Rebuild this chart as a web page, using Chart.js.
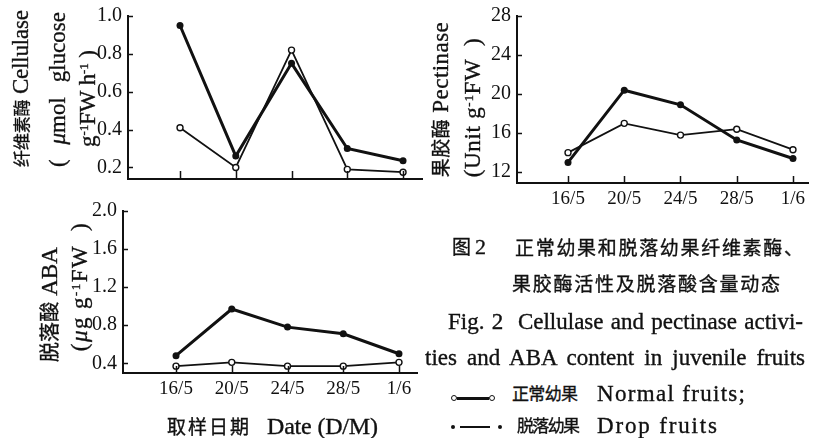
<!DOCTYPE html>
<html><head><meta charset="utf-8">
<script src="https://cdn.jsdelivr.net/npm/chart.js@4.4.1/dist/chart.umd.min.js"></script>
<style>
html,body{margin:0;padding:0;background:#fff;}
#wrap{position:relative;width:817px;height:438px;overflow:hidden;background:#fff;}
canvas{position:absolute;}
.t{position:absolute;white-space:pre;line-height:1;color:#111;font-family:"Liberation Serif","Noto Sans CJK SC",serif;-webkit-text-stroke:0.35px #111;}
.cjk{font-family:"Noto Sans CJK SC","Liberation Serif",sans-serif;}
.it{font-style:italic;}
.sup{vertical-align:0.55em;}
.mk{position:absolute;background:#111;}
.oc{position:absolute;background:#fff;border:1.3px solid #111;border-radius:50%;box-sizing:border-box;}
.dc{position:absolute;background:#111;border-radius:50%;}
</style></head><body>
<div id="wrap">
<canvas id="cA"></canvas><canvas id="cB"></canvas><canvas id="cC"></canvas>
</div>
<script>
const dates = ['16/5','20/5','24/5','28/5','1/6'];
const cellNormal = [0.41, 0.20, 0.82, 0.19, 0.175];
const cellDrop   = [0.95, 0.26, 0.75, 0.30, 0.235];
const pectNormal = [14.0, 17.0, 15.8, 16.4, 14.3];
const pectDrop   = [13.0, 20.4, 18.9, 15.3, 13.4];
const abaNormal  = [0.37, 0.41, 0.37, 0.37, 0.41];
const abaDrop    = [0.48, 0.97, 0.78, 0.71, 0.50];
const cellTicks = [0.2, 0.4, 0.6, 0.8, 1.0];
const pectTicks = [12, 16, 20, 24, 28];
const abaTicks  = [0.4, 0.8, 1.2, 1.6, 2.0];

const INK = '#111';

const inTicks = {
  id: 'inTicks',
  afterDraw(chart, args, opts) {
    const {ctx, chartArea: a, scales: {x, y}} = chart;
    ctx.save();
    ctx.strokeStyle = INK; ctx.lineWidth = 1.5;
    ctx.beginPath();
    dates.forEach((d, i) => {
      const px = Math.round(x.getPixelForValue(i)) + 0.5;
      ctx.moveTo(px, a.bottom); ctx.lineTo(px, a.bottom - opts.x);
    });
    y.ticks.forEach(t => {
      const py = Math.round(y.getPixelForValue(t.value)) + 0.5;
      ctx.moveTo(a.left, py); ctx.lineTo(a.left + opts.y, py);
    });
    ctx.stroke();
    ctx.restore();
  }
};

function make(c) {
  const cv = document.getElementById(c.id);
  cv.width = c.w; cv.height = c.h;
  cv.style.left = c.left + 'px'; cv.style.top = c.top + 'px';
  return new Chart(cv, {
    type: 'line',
    data: {datasets: [
      {label: '正常幼果 Normal fruits', data: c.normal.map((v, i) => ({x: i, y: v})),
       borderColor: INK, borderWidth: 1.8, pointRadius: 3, pointBackgroundColor: '#fff',
       pointBorderColor: INK, pointBorderWidth: 1.4, clip: false, tension: 0},
      {label: '脱落幼果 Drop fruits', data: c.drop.map((v, i) => ({x: i, y: v})),
       borderColor: INK, borderWidth: 3, pointRadius: 3.5, pointBackgroundColor: INK,
       pointBorderColor: INK, pointBorderWidth: 0, clip: false, tension: 0}
    ]},
    options: {
      responsive: false, animation: false, devicePixelRatio: 1,
      layout: {padding: {left: 0, top: c.area.t, right: c.w - c.area.r, bottom: 0}},
      plugins: {legend: {display: false}, tooltip: {enabled: false}, inTicks: {x: c.tickX, y: 5}},
      scales: {
        x: {type: 'linear', min: c.xMin, max: c.xMax,
            afterBuildTicks: s => { s.ticks = dates.map((d, i) => ({value: i})); },
            afterFit: s => { s.height = c.h - c.area.b; },
            grid: {display: false, drawTicks: false},
            border: {display: true, color: INK, width: 2},
            ticks: {display: c.xLabels, autoSkip: false, maxRotation: 0, minRotation: 0, padding: 7,
                    color: INK, font: {family: 'Liberation Serif', size: 19, lineHeight: 1},
                    callback: v => (dates[v] !== undefined ? dates[v] : '')}},
        y: {type: 'linear', min: c.yMin, max: c.yMax,
            afterBuildTicks: s => { s.ticks = c.yTicks.map(v => ({value: v})); },
            afterFit: s => { s.width = c.area.l; },
            grid: {display: false, drawTicks: false},
            border: {display: true, color: INK, width: 2},
            ticks: {padding: 6, color: INK, font: {family: 'Liberation Serif', size: 20, lineHeight: 1},
                    callback: c.fmt}}
      }
    },
    plugins: [inTicks]
  });
}

make({id: 'cA', left: 0, top: 0, w: 430, h: 195, area: {l: 128, t: 13, r: 422, b: 183},
      yMin: 0.139, yMax: 1.0, yTicks: cellTicks, fmt: v => v.toFixed(1),
      xMin: -0.933, xMax: 4.34, xLabels: false, tickX: 8, normal: cellNormal, drop: cellDrop});
make({id: 'cB', left: 430, top: 0, w: 387, h: 215, area: {l: 87, t: 14, r: 378, b: 183},
      yMin: 10.89, yMax: 28, yTicks: pectTicks, fmt: v => String(v),
      xMin: -0.907, xMax: 4.267, xLabels: true, tickX: 7, normal: pectNormal, drop: pectDrop});
make({id: 'cC', left: 0, top: 195, w: 430, h: 243, area: {l: 123, t: 11, r: 417, b: 178},
      yMin: 0.298, yMax: 2.0, yTicks: abaTicks, fmt: v => v.toFixed(1),
      xMin: -0.951, xMax: 4.323, xLabels: true, tickX: 7, normal: abaNormal, drop: abaDrop});

const wrap = document.getElementById('wrap');
function put(parts, o) {
  const d = document.createElement('div');
  d.className = 't';
  let n = 0, spaces = 0;
  parts.forEach(p => {
    const s = document.createElement('span');
    s.textContent = p[0];
    s.style.fontSize = p[1] + 'px';
    if (p[2]) s.className = p[2];
    d.appendChild(s);
    n += [...p[0]].length;
    spaces += (p[0].match(/ /g) || []).length;
  });
  wrap.appendChild(d);
  const target = o.rot ? (o.y2 - o.y1) : (o.x2 - o.x1);
  const nat = d.getBoundingClientRect().width;
  if (o.ws && spaces > 0) d.style.wordSpacing = ((target - nat) / spaces) + 'px';
  else if (n > 1) d.style.letterSpacing = ((target - nat) / (n - 1)) + 'px';
  const r = d.getBoundingClientRect();
  const w = r.width, h = r.height;
  if (o.rot) {
    const cy = (o.y1 + o.y2) / 2;
    d.style.left = (o.cx - w / 2) + 'px';
    d.style.top = (cy - h / 2) + 'px';
    d.style.transform = 'rotate(-90deg)';
  } else {
    d.style.left = o.x1 + 'px';
    d.style.top = (o.cy - h / 2) + 'px';
  }
}

// y-axis titles
put([['纤维素酶', 17, 'cjk'], [' Cellulase', 23]], {rot: true, cx: 20, y1: 10, y2: 167});
put([['(  ', 23], ['μ', 23, 'it'], ['mol  glucose', 23]], {rot: true, cx: 57, y1: 12, y2: 167, ws: true});
put([['g', 23], ['-1', 13, 'sup'], ['FW h', 23], ['-1', 13, 'sup'], [' )', 23]], {rot: true, cx: 87, y1: 50, y2: 147});
put([['果胶酶', 19, 'cjk'], [' Pectinase', 23]], {rot: true, cx: 441, y1: 22, y2: 177});
put([['(Unit g', 23], ['-1', 13, 'sup'], ['FW  )', 23]], {rot: true, cx: 473, y1: 38, y2: 177});
put([['脱落酸', 20, 'cjk'], [' ABA', 23]], {rot: true, cx: 50, y1: 247, y2: 362});
put([['(', 23], ['μ', 23, 'it'], ['g g', 23], ['-1', 13, 'sup'], ['FW  )', 23]], {rot: true, cx: 80, y1: 222, y2: 350});

// x-axis title
put([['取样日期', 19, 'cjk']], {x1: 167, x2: 249, cy: 426});
put([['Date (D/M)', 24]], {x1: 267, x2: 378, cy: 426});

// caption
put([['图 ', 19, 'cjk'], ['2', 22]], {x1: 452, x2: 486, cy: 247});
put([['正常幼果和脱落幼果纤维素酶、', 19, 'cjk']], {x1: 515, x2: 803, cy: 247});
put([['果胶酶活性及脱落酸含量动态', 19, 'cjk']], {x1: 512, x2: 780, cy: 283});
put([['Fig. 2  Cellulase and pectinase activi-', 23]], {x1: 448, x2: 803, cy: 321, ws: true});
put([['ties and ABA content in juvenile fruits', 23]], {x1: 425, x2: 805, cy: 357, ws: true});
put([['正常幼果', 17, 'cjk']], {x1: 512, x2: 578, cy: 393});
put([['Normal fruits;', 23]], {x1: 597, x2: 745, cy: 393});
put([['脱落幼果', 17, 'cjk']], {x1: 517, x2: 580, cy: 425});
put([['Drop fruits', 23]], {x1: 597, x2: 717, cy: 425});

// legend keys
function box(cls, x, y, w, h) {
  const e = document.createElement('div'); e.className = cls;
  e.style.left = x + 'px'; e.style.top = y + 'px'; e.style.width = w + 'px'; e.style.height = h + 'px';
  wrap.appendChild(e);
}
box('mk', 457, 396.5, 32, 3);
box('oc', 451, 395, 6, 6);
box('oc', 489, 395, 6, 6);
box('mk', 460, 426, 30, 2);
box('dc', 451, 425, 4, 4);
box('dc', 498, 425, 4, 4);
</script>
</body></html>
